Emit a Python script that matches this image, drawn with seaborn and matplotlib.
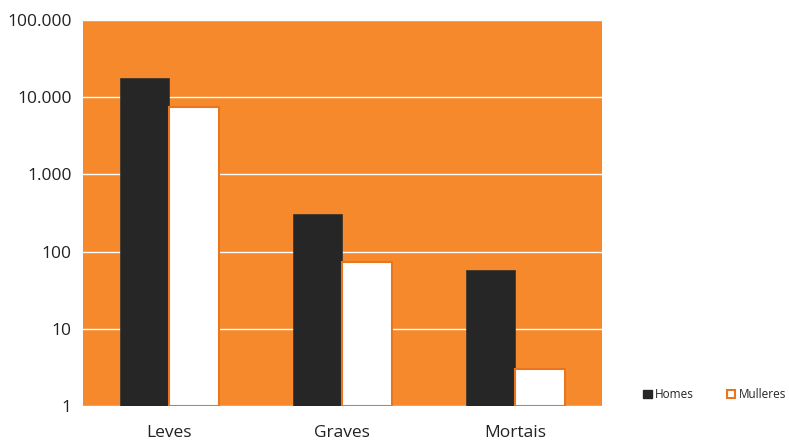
import matplotlib
matplotlib.use("Agg")
import matplotlib.pyplot as plt
import matplotlib.ticker as mticker
from matplotlib.patches import Patch
import pandas as pd
import seaborn as sns

categories = ["Leves", "Graves", "Mortais"]
homes = [17700, 305, 57]
mulleres = [7400, 73, 3]
series = ["Homes", "Mulleres"]

df = pd.DataFrame({
    "categoria": categories * 2,
    "sexo": [series[0]] * 3 + [series[1]] * 3,
    "valor": homes + mulleres,
})

sns.set_style("white")
plt.rcParams["font.family"] = ["Open Sans", "DejaVu Sans"]

ORANGE = "#F5892C"
EDGE = "#E8761E"

fig = plt.figure(figsize=(7.89, 4.43), dpi=100)
ax = fig.add_axes([0.105, 0.0835, 0.658, 0.8715])
ax.set_facecolor(ORANGE)

sns.barplot(
    data=df, x="categoria", y="valor", hue="sexo",
    palette={"Homes": "#262626", "Mulleres": "white"},
    width=0.57, gap=0, ax=ax, log_scale=True,
)
# bars start at 0, which is -inf on a log axis: rebase them at 1
for bar, lab in zip(ax.patches, ["Homes"] * 3 + ["Mulleres"] * 3):
    top = bar.get_y() + bar.get_height()
    bar.set_y(1)
    bar.set_height(top - 1)
    if lab == "Mulleres":
        bar.set_edgecolor(EDGE)
        bar.set_linewidth(1.5)
    else:
        bar.set_edgecolor("#333333")
        bar.set_linewidth(0.5)

ax.set_ylim(1, 100000)
ax.set_xlim(-0.5, 2.5)
ax.set_yticks([1, 10, 100, 1000, 10000, 100000])
ax.yaxis.set_major_formatter(mticker.FuncFormatter(lambda v, p: f"{int(round(v)):,}".replace(",", ".")))
ax.yaxis.set_minor_locator(mticker.NullLocator())
ax.grid(axis="y", color="white", linewidth=1)
ax.set_axisbelow(True)
for s in ax.spines.values():
    s.set_visible(False)
ax.tick_params(axis="both", length=0, labelsize=12.5, colors="#222222")
ax.tick_params(axis="y", pad=8)
ax.tick_params(axis="x", pad=14)
ax.set_xlabel("")
ax.set_ylabel("")

ax.legend_.remove()
handles = [
    Patch(facecolor="#262626", edgecolor="#262626", label="Homes"),
    Patch(facecolor="white", edgecolor=EDGE, linewidth=1.5, label="Mulleres"),
]
fig.legend(handles=handles, loc="center", bbox_to_anchor=(0.906, 0.11), ncol=2,
           frameon=False, handlelength=0.7, handleheight=0.7, handletextpad=0.3,
           columnspacing=2.8, fontsize=8.5)

fig.savefig("out.png", dpi=100)
